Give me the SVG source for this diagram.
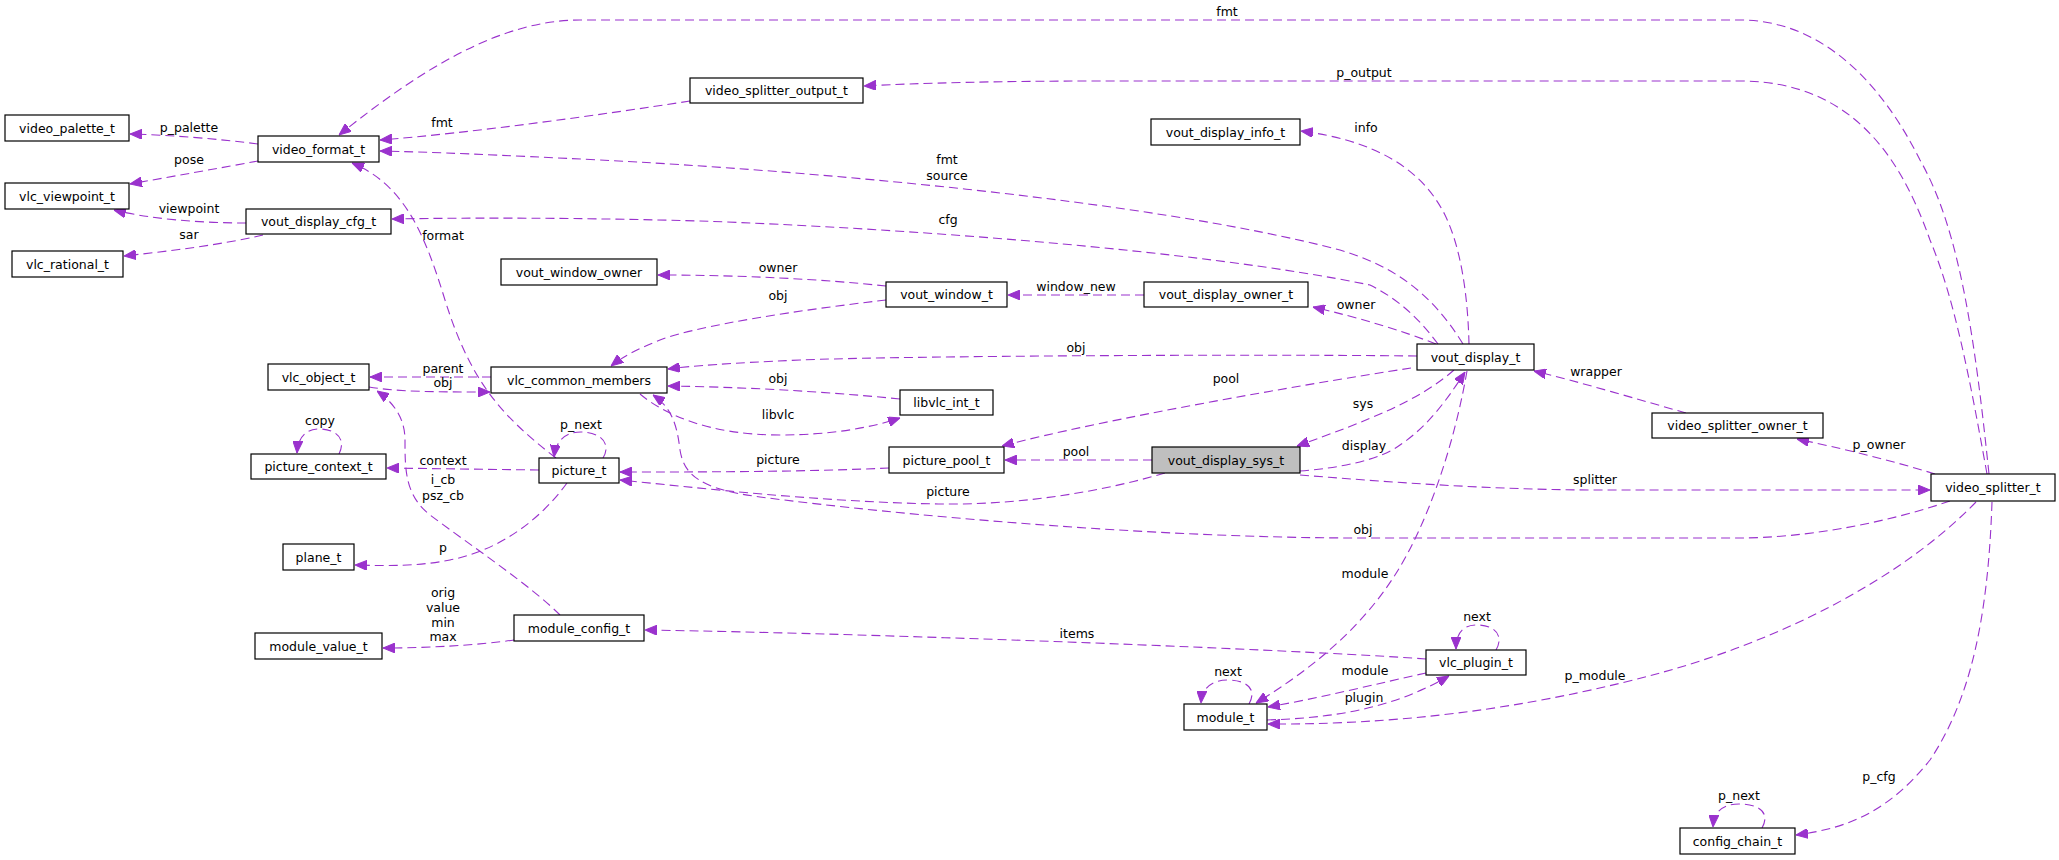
<svg xmlns="http://www.w3.org/2000/svg" width="2059" height="860" viewBox="0 0 2059 860">
<style>
.n rect{fill:#fff;stroke:#000;stroke-width:1.2}
.n text,.l{font-family:"DejaVu Sans",sans-serif;font-size:12.5px;fill:#000;text-anchor:middle}
.e path{fill:none;stroke:#9a32cd;stroke-width:1.1;stroke-dasharray:9,5;marker-end:url(#a)}
</style>
<defs>
<marker id="a" viewBox="0 0 12 10" refX="12" refY="5" markerWidth="12" markerHeight="10" markerUnits="userSpaceOnUse" orient="auto">
<path d="M0,0 L12,5 L0,10 z" fill="#9a32cd" stroke="#9a32cd"/>
</marker>
</defs>
<rect width="2059" height="860" fill="#fff"/>
<g class="e">
<path d="M258,144 C220,139 170,135 130,134"/>
<path d="M258,161 C220,168 175,176 130,184"/>
<path d="M246,223 C200,223 150,219 114,210"/>
<path d="M263,235 C220,245 170,251 124,256"/>
<path d="M556,458 C500,415 470,380 445,300 C425,235 405,185 352,163"/>
<path d="M690,101 C600,115 470,133 380,140"/>
<path d="M1463,344 C1430,290 1390,265 1340,250 C1150,200 800,170 600,160 C500,155 430,152 380,151"/>
<path d="M1438,344 C1420,320 1400,300 1370,285 C1200,250 900,228 700,221 C550,217 450,218 392,219"/>
<path d="M1989,474 C1975,340 1960,230 1920,160 C1880,80 1820,20 1740,20 L580,20 C500,20 420,70 339,135"/>
<path d="M1987,474 C1970,380 1955,300 1930,240 C1905,170 1860,81 1740,81 L1100,81 C1000,81 920,83 864,86"/>
<path d="M1469,344 C1468,300 1462,250 1445,215 C1420,165 1370,140 1301,131"/>
<path d="M886,286 C820,279 740,275 658,275"/>
<path d="M886,300 C800,310 700,325 660,340 C640,348 625,355 611,366"/>
<path d="M1144,295 L1008,295"/>
<path d="M1436,344 C1400,330 1360,318 1313,307"/>
<path d="M1417,356 C1250,354 900,356 800,360 C730,363 690,366 668,369"/>
<path d="M900,399 C820,391 740,387 668,386"/>
<path d="M640,394 C665,415 710,435 780,435 C830,435 870,428 900,418"/>
<path d="M491,377 L370,377"/>
<path d="M369,387 C400,392 440,392 490,392"/>
<path d="M560,615 C530,585 470,545 430,515 C405,495 405,470 405,440 C405,415 390,400 377,391"/>
<path d="M539,470 L387,468"/>
<path d="M603,458 C612,443 600,432 581,432 C566,432 556,440 554,457"/>
<path d="M339,454 C347,438 335,429 319,429 C306,429 298,437 297,453"/>
<path d="M567,483 C540,520 500,550 450,560 C420,566 390,566 355,565"/>
<path d="M514,640 C480,645 430,648 383,648"/>
<path d="M1426,659 C1300,650 900,634 645,630"/>
<path d="M889,468 C800,472 700,472 620,472"/>
<path d="M1165,473 C1090,495 1010,505 940,504 C820,502 700,488 620,480"/>
<path d="M1152,460 L1005,460"/>
<path d="M1411,368 C1300,385 1100,420 1002,446"/>
<path d="M1454,370 C1420,400 1370,420 1297,446"/>
<path d="M1300,471 C1340,468 1380,460 1400,445 C1430,425 1450,395 1465,372"/>
<path d="M1300,475 C1400,483 1500,490 1600,490 L1930,490"/>
<path d="M1935,474 C1890,460 1840,448 1797,439"/>
<path d="M1686,413 C1640,400 1580,382 1534,371"/>
<path d="M1950,501 C1880,525 1800,538 1740,538 L1360,538 C1150,538 900,515 760,497 C700,489 684,475 680,450 C677,425 672,408 653,395"/>
<path d="M1467,371 C1455,440 1430,520 1395,575 C1360,630 1310,670 1256,703"/>
<path d="M1249,704 C1258,688 1245,680 1228,680 C1212,680 1202,688 1201,703"/>
<path d="M1426,673 C1380,683 1320,698 1268,707"/>
<path d="M1267,720 C1330,718 1390,710 1449,676"/>
<path d="M1976,502 C1900,580 1780,640 1660,673 C1560,700 1430,725 1268,724"/>
<path d="M1496,650 C1505,634 1493,625 1477,625 C1462,625 1456,634 1456,649"/>
<path d="M1992,502 C1988,620 1970,700 1930,760 C1890,810 1850,828 1796,835"/>
<path d="M1762,828 C1771,812 1758,804 1739,804 C1722,804 1714,812 1713,827"/>
</g>
<g id="labels">
<text class="l" x="189" y="132">p_palette</text>
<text class="l" x="189" y="164">pose</text>
<text class="l" x="189" y="213">viewpoint</text>
<text class="l" x="189" y="239">sar</text>
<text class="l" x="442" y="127">fmt</text>
<text class="l" x="443" y="240">format</text>
<text class="l" x="1227" y="16">fmt</text>
<text class="l" x="1364" y="77">p_output</text>
<text class="l" x="1366" y="132">info</text>
<text class="l" x="947" y="164">fmt</text>
<text class="l" x="947" y="180">source</text>
<text class="l" x="948" y="224">cfg</text>
<text class="l" x="778" y="272">owner</text>
<text class="l" x="778" y="300">obj</text>
<text class="l" x="1076" y="291">window_new</text>
<text class="l" x="1356" y="309">owner</text>
<text class="l" x="1076" y="352">obj</text>
<text class="l" x="778" y="383">obj</text>
<text class="l" x="778" y="419">libvlc</text>
<text class="l" x="1226" y="383">pool</text>
<text class="l" x="1363" y="408">sys</text>
<text class="l" x="1364" y="450">display</text>
<text class="l" x="1076" y="456">pool</text>
<text class="l" x="778" y="464">picture</text>
<text class="l" x="948" y="496">picture</text>
<text class="l" x="1363" y="534">obj</text>
<text class="l" x="1365" y="578">module</text>
<text class="l" x="1077" y="638">items</text>
<text class="l" x="1365" y="675">module</text>
<text class="l" x="1364" y="702">plugin</text>
<text class="l" x="1228" y="676">next</text>
<text class="l" x="1477" y="621">next</text>
<text class="l" x="1595" y="680">p_module</text>
<text class="l" x="1879" y="781">p_cfg</text>
<text class="l" x="1739" y="800">p_next</text>
<text class="l" x="1596" y="376">wrapper</text>
<text class="l" x="1879" y="449">p_owner</text>
<text class="l" x="1595" y="484">splitter</text>
<text class="l" x="443" y="373">parent</text>
<text class="l" x="443" y="387">obj</text>
<text class="l" x="320" y="425">copy</text>
<text class="l" x="581" y="429">p_next</text>
<text class="l" x="443" y="465">context</text>
<text class="l" x="443" y="484">i_cb</text>
<text class="l" x="443" y="500">psz_cb</text>
<text class="l" x="443" y="552">p</text>
<text class="l" x="443" y="597">orig</text>
<text class="l" x="443" y="612">value</text>
<text class="l" x="443" y="627">min</text>
<text class="l" x="443" y="641">max</text>
</g>
<g id="video_palette_t" class="n"><rect x="5" y="115" width="124" height="26"/><text x="67" y="132.5">video_palette_t</text></g>
<g id="video_format_t" class="n"><rect x="258" y="136" width="121" height="26"/><text x="318.5" y="153.5">video_format_t</text></g>
<g id="vlc_viewpoint_t" class="n"><rect x="5" y="183" width="124" height="26"/><text x="67" y="200.5">vlc_viewpoint_t</text></g>
<g id="vout_display_cfg_t" class="n"><rect x="246" y="209" width="145" height="25"/><text x="318.5" y="226">vout_display_cfg_t</text></g>
<g id="vlc_rational_t" class="n"><rect x="12" y="251" width="111" height="26"/><text x="67.5" y="268.5">vlc_rational_t</text></g>
<g id="vout_window_owner" class="n"><rect x="501" y="259" width="156" height="26"/><text x="579" y="276.5">vout_window_owner</text></g>
<g id="vlc_object_t" class="n"><rect x="268" y="364" width="101" height="26"/><text x="318.5" y="381.5">vlc_object_t</text></g>
<g id="vlc_common_members" class="n"><rect x="491" y="367" width="176" height="26"/><text x="579" y="384.5">vlc_common_members</text></g>
<g id="picture_context_t" class="n"><rect x="251" y="454" width="135" height="25"/><text x="318.5" y="471">picture_context_t</text></g>
<g id="picture_t" class="n"><rect x="539" y="458" width="80" height="25"/><text x="579" y="475">picture_t</text></g>
<g id="plane_t" class="n"><rect x="283" y="544" width="71" height="26"/><text x="318.5" y="561.5">plane_t</text></g>
<g id="module_config_t" class="n"><rect x="514" y="615" width="130" height="26"/><text x="579" y="632.5">module_config_t</text></g>
<g id="module_value_t" class="n"><rect x="255" y="633" width="127" height="26"/><text x="318.5" y="650.5">module_value_t</text></g>
<g id="video_splitter_output_t" class="n"><rect x="690" y="78" width="173" height="25"/><text x="776.5" y="95">video_splitter_output_t</text></g>
<g id="vout_display_info_t" class="n"><rect x="1151" y="119" width="149" height="26"/><text x="1225.5" y="136.5">vout_display_info_t</text></g>
<g id="vout_window_t" class="n"><rect x="886" y="282" width="121" height="25"/><text x="946.5" y="299">vout_window_t</text></g>
<g id="vout_display_owner_t" class="n"><rect x="1144" y="282" width="164" height="25"/><text x="1226" y="299">vout_display_owner_t</text></g>
<g id="libvlc_int_t" class="n"><rect x="900" y="390" width="93" height="25"/><text x="946.5" y="407">libvlc_int_t</text></g>
<g id="picture_pool_t" class="n"><rect x="889" y="447" width="115" height="26"/><text x="946.5" y="464.5">picture_pool_t</text></g>
<g id="vout_display_sys_t" class="n"><rect x="1152" y="447" width="148" height="26" style="fill:#bfbfbf"/><text x="1226" y="464.5">vout_display_sys_t</text></g>
<g id="module_t" class="n"><rect x="1184" y="704" width="83" height="26"/><text x="1225.5" y="721.5">module_t</text></g>
<g id="vout_display_t" class="n"><rect x="1417" y="344" width="117" height="26"/><text x="1475.5" y="361.5">vout_display_t</text></g>
<g id="video_splitter_owner_t" class="n"><rect x="1652" y="413" width="171" height="25"/><text x="1737.5" y="430">video_splitter_owner_t</text></g>
<g id="video_splitter_t" class="n"><rect x="1931" y="474" width="124" height="27"/><text x="1993" y="492">video_splitter_t</text></g>
<g id="vlc_plugin_t" class="n"><rect x="1426" y="650" width="100" height="25"/><text x="1476" y="667">vlc_plugin_t</text></g>
<g id="config_chain_t" class="n"><rect x="1680" y="828" width="115" height="26"/><text x="1737.5" y="845.5">config_chain_t</text></g>
</svg>
